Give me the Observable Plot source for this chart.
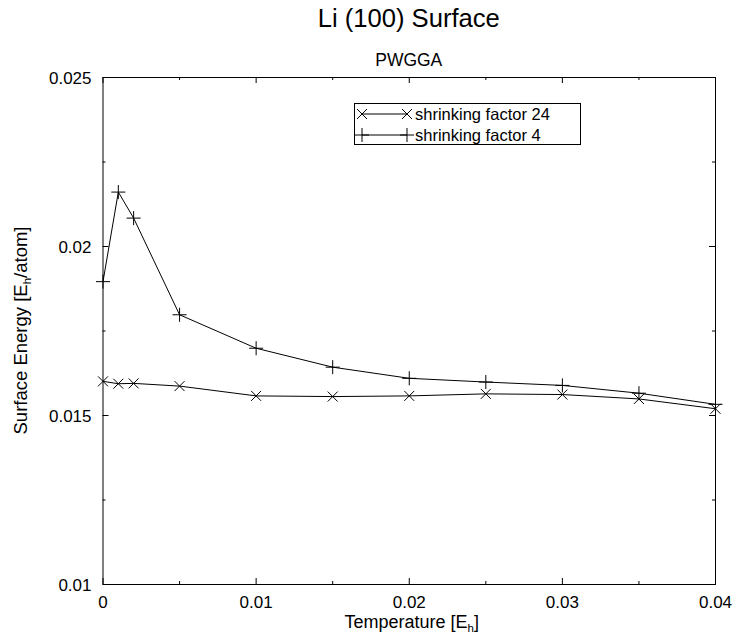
<!DOCTYPE html>
<html><head><meta charset="utf-8">
<script src="https://cdn.jsdelivr.net/npm/d3@7"></script>
<script src="https://cdn.jsdelivr.net/npm/@observablehq/plot@0.6"></script>
<style>body{margin:0;background:#fff;} svg{display:block}</style>
</head><body><div id="chart"></div>
<script>
const temperature = [0, 0.001, 0.002, 0.005, 0.01, 0.015, 0.02, 0.025, 0.03, 0.035, 0.04];
const energy24 = [0.01601, 0.01594, 0.01595, 0.01587, 0.01558, 0.01556, 0.01558, 0.01564, 0.01562, 0.01549, 0.01520];
const energy4 = [0.01896, 0.02161, 0.02084, 0.01798, 0.01699, 0.01643, 0.01610, 0.01599, 0.01589, 0.01566, 0.01533];
const seriesNames = ["shrinking factor 24", "shrinking factor 4"];
const seriesSymbols = ["times", "plus"];
const xMajor = [0, 0.01, 0.02, 0.03, 0.04];
const xMajorLabels = ["0", "0.01", "0.02", "0.03", "0.04"];
const xMinor = [0.005, 0.015, 0.025, 0.035];
const yMajor = [0.01, 0.015, 0.02, 0.025];
const yMajorLabels = ["0.01", "0.015", "0.02", "0.025"];
const yMinor = [0.0125, 0.0175, 0.0225];
const titleText = "Li (100) Surface";
const subtitleText = "PWGGA";

const W = 733, H = 641;
const mL = 102.5, mR = 18, mT = 77, mB = 57;
const FW = W - mL - mR, FH = H - mT - mB;
const font = "'Liberation Sans', Arial, Helvetica, sans-serif";

const d24 = temperature.map((t, i) => ({t, e: energy24[i]}));
const d4 = temperature.map((t, i) => ({t, e: energy4[i]}));
const R = 4.6;

const chart = Plot.plot({
  width: W, height: H,
  marginLeft: mL, marginRight: mR, marginTop: mT, marginBottom: mB,
  style: {fontFamily: font, background: "#fff", color: "black"},
  x: {domain: [0, 0.04], axis: null},
  y: {domain: [0.01, 0.025], axis: null},
  marks: [
    Plot.ruleX(xMajor, {x: d => d, insetTop: FH - 6, stroke: "black"}),
    Plot.ruleX(xMajor, {x: d => d, insetBottom: FH - 6, stroke: "black"}),
    Plot.ruleX(xMinor, {x: d => d, insetTop: FH - 3, stroke: "black"}),
    Plot.ruleX(xMinor, {x: d => d, insetBottom: FH - 3, stroke: "black"}),
    Plot.ruleY(yMajor, {y: d => d, insetRight: FW - 6, stroke: "black"}),
    Plot.ruleY(yMajor, {y: d => d, insetLeft: FW - 6, stroke: "black"}),
    Plot.ruleY(yMinor, {y: d => d, insetRight: FW - 3, stroke: "black"}),
    Plot.ruleY(yMinor, {y: d => d, insetLeft: FW - 3, stroke: "black"}),
    Plot.frame({stroke: "black", strokeWidth: 1}),
    Plot.line(d24, {x: "t", y: "e", stroke: "black", strokeWidth: 1}),
    Plot.dot(d24, {x: "t", y: "e", symbol: seriesSymbols[0], r: R, stroke: "black", strokeWidth: 1}),
    Plot.line(d4, {x: "t", y: "e", stroke: "black", strokeWidth: 1}),
    Plot.dot(d4, {x: "t", y: "e", symbol: seriesSymbols[1], r: R, stroke: "black", strokeWidth: 1}),
    Plot.text(xMajor, {x: d => d, text: (d, i) => xMajorLabels[i], frameAnchor: "bottom", dy: 18.5, lineAnchor: "middle", fontSize: 17, fill: "black"}),
    Plot.text(yMajor, {y: d => d, text: (d, i) => yMajorLabels[i], frameAnchor: "left", dx: -11.5, dy: 1, textAnchor: "end", lineAnchor: "middle", fontSize: 17, fill: "black"})
  ]
});

const svg = d3.select(chart);
const cx = mL + FW / 2;

// title & subtitle
svg.append("text").attr("x", cx).attr("y", 27.3).attr("text-anchor", "middle")
  .attr("font-family", font).attr("font-size", 25.6).attr("fill", "black").text(titleText);
svg.append("text").attr("x", cx).attr("y", 66).attr("text-anchor", "middle")
  .attr("font-family", font).attr("font-size", 17.5).attr("fill", "black").text(subtitleText);

// x axis label
const xl = svg.append("text").attr("x", cx + 3).attr("y", 628).attr("text-anchor", "middle")
  .attr("font-family", font).attr("font-size", 18).attr("fill", "black");
xl.append("tspan").text("Temperature [E");
xl.append("tspan").attr("font-size", 11.5).attr("dy", 4).text("h");
xl.append("tspan").attr("dy", -4).text("]");

// y axis label
const yl = svg.append("text").attr("transform", `translate(27,${mT + FH / 2}) rotate(-90)`)
  .attr("text-anchor", "middle").attr("font-family", font).attr("font-size", 18.5).attr("fill", "black");
yl.append("tspan").text("Surface Energy [E");
yl.append("tspan").attr("font-size", 11.5).attr("dy", 4).text("h");
yl.append("tspan").attr("dy", -4).text("/atom]");

// legend
const lg = svg.append("g");
lg.append("rect").attr("x", 354.5).attr("y", 103.5).attr("width", 226).attr("height", 41)
  .attr("fill", "white").attr("stroke", "black").attr("stroke-width", 1);
const symType = {times: d3.symbolTimes, plus: d3.symbolPlus};
seriesNames.forEach((name, i) => {
  const y = 114 + i * 21;
  lg.append("line").attr("x1", 362).attr("x2", 407).attr("y1", y).attr("y2", y)
    .attr("stroke", "black").attr("stroke-width", 1);
  [362, 407].forEach(x => {
    lg.append("path").attr("d", d3.symbol().type(symType[seriesSymbols[i]]).size(Math.PI * R * R)())
      .attr("transform", `translate(${x},${y})`).attr("fill", "none").attr("stroke", "black").attr("stroke-width", 1);
  });
  lg.append("text").attr("x", 415).attr("y", y).attr("dy", "0.35em").attr("text-anchor", "start")
    .attr("font-family", font).attr("font-size", 16.5).attr("fill", "black").text(name);
});

document.getElementById("chart").appendChild(chart);
</script>
</body></html>
